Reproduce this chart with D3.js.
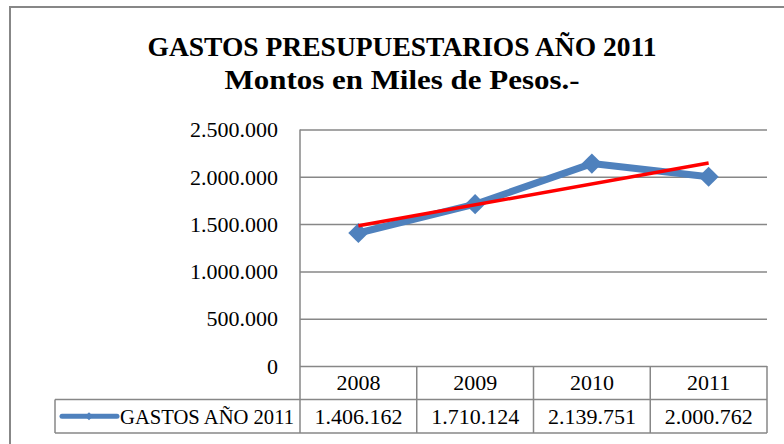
<!DOCTYPE html>
<html>
<head>
<meta charset="utf-8">
<script src="https://cdn.jsdelivr.net/npm/d3@7"></script>
<style>
  body { margin: 0; background: #ffffff; }
  svg { display: block; }
</style>
</head>
<body>
<script>
// datos del grafico
var years = ["2008", "2009", "2010", "2011"];
var gastos = [1406162, 1710124, 2139751, 2000762];
var yTicks = [0, 500000, 1000000, 1500000, 2000000, 2500000];
var seriesName = "GASTOS AÑO 2011";
var titleLines = ["GASTOS PRESUPUESTARIOS AÑO 2011", "Montos en Miles de Pesos.-"];

var width = 784;
var height = 444;
var grey = "#878787";
var blue = "#4F81BD";
var serif = "'Liberation Serif', 'DejaVu Serif', serif";

var plotLeft = 300, plotRight = 767, plotTop = 129.5, plotBottom = 366;
var rowH = 33.5;

var es = d3.formatLocale({decimal: ",", thousands: ".", grouping: [3], currency: ["$", ""]});
var fmt = es.format(",d");

var svg = d3.select("body")
            .append("svg")
            .attr("width", width)
            .attr("height", height);

svg.append("rect")
    .attr("width", width)
    .attr("height", height)
    .attr("fill", "white");

// marco exterior
svg.append("rect")
    .attr("x", 10)
    .attr("y", 7)
    .attr("width", 790)
    .attr("height", 460)
    .attr("fill", "none")
    .attr("stroke", grey)
    .attr("stroke-width", 2);

// titulo
svg.selectAll("text.title")
    .data(titleLines)
    .enter()
    .append("text")
    .attr("class", "title")
    .text(function(d){ return d; })
    .attr("x", 402)
    .attr("y", function(d, i){ return 56 + i * 32.5; })
    .attr("text-anchor", "middle")
    .attr("textLength", function(d, i){ return i == 0 ? 509 : 355; })
    .attr("lengthAdjust", "spacingAndGlyphs")
    .attr("fill", "black")
    .style("font-family", serif)
    .style("font-size", "28px")
    .style("font-weight", "bold");

var x = d3.scaleBand()
          .domain(years)
          .range([plotLeft, plotRight])
          .padding(0);

var y = d3.scaleLinear()
          .domain([0, 2500000])
          .range([plotBottom, plotTop]);

// eje y con lineas de division
var yAxis = d3.axisLeft(y)
              .tickValues(yTicks)
              .tickFormat(fmt)
              .tickSizeInner(-(plotRight - plotLeft))
              .tickSizeOuter(0)
              .tickPadding(22);

var gy = svg.append("g")
            .attr("transform", "translate(" + plotLeft + ",0)")
            .call(yAxis);

gy.select(".domain").remove();
gy.selectAll(".tick line")
    .attr("stroke", grey)
    .attr("stroke-width", 1.5);
gy.selectAll(".tick text")
    .attr("fill", "black")
    .attr("dy", "0.33em")
    .style("font-family", serif)
    .style("font-size", "22px");

// tabla de datos
var cols = [plotLeft].concat(years.map(function(d){ return x(d) + x.bandwidth(); }));

svg.selectAll("line.col")
    .data(cols)
    .enter()
    .append("line")
    .attr("class", "col")
    .attr("x1", function(d){ return d; })
    .attr("x2", function(d){ return d; })
    .attr("y1", function(d, i){ return i == 0 ? plotTop : plotBottom; })
    .attr("y2", plotBottom + 2 * rowH)
    .attr("stroke", grey)
    .attr("stroke-width", 1.5);

svg.append("line")
    .attr("x1", 55)
    .attr("x2", plotRight)
    .attr("y1", plotBottom + rowH)
    .attr("y2", plotBottom + rowH)
    .attr("stroke", grey)
    .attr("stroke-width", 1.5);

svg.append("line")
    .attr("x1", 55)
    .attr("x2", plotRight)
    .attr("y1", plotBottom + 2 * rowH)
    .attr("y2", plotBottom + 2 * rowH)
    .attr("stroke", grey)
    .attr("stroke-width", 1.5);

svg.append("line")
    .attr("x1", 55)
    .attr("x2", 55)
    .attr("y1", plotBottom + rowH)
    .attr("y2", plotBottom + 2 * rowH)
    .attr("stroke", grey)
    .attr("stroke-width", 1.5);

svg.selectAll("text.year")
    .data(years)
    .enter()
    .append("text")
    .attr("class", "year")
    .text(function(d){ return d; })
    .attr("x", function(d){ return x(d) + x.bandwidth() / 2; })
    .attr("y", plotBottom + rowH / 2)
    .attr("dy", "0.33em")
    .attr("text-anchor", "middle")
    .attr("fill", "black")
    .style("font-family", serif)
    .style("font-size", "22px");

svg.selectAll("text.valor")
    .data(gastos)
    .enter()
    .append("text")
    .attr("class", "valor")
    .text(function(d){ return fmt(d); })
    .attr("x", function(d, i){ return x(years[i]) + x.bandwidth() / 2; })
    .attr("y", plotBottom + rowH * 1.5)
    .attr("dy", "0.33em")
    .attr("text-anchor", "middle")
    .attr("fill", "black")
    .style("font-family", serif)
    .style("font-size", "22px");

// leyenda dentro de la tabla
var legY = plotBottom + rowH * 1.5;
svg.append("line")
    .attr("x1", 62)
    .attr("x2", 117)
    .attr("y1", legY)
    .attr("y2", legY)
    .attr("stroke", blue)
    .attr("stroke-width", 5)
    .attr("stroke-linecap", "round");

svg.append("path")
    .attr("d", d3.symbol().type(d3.symbolDiamond2).size(40)())
    .attr("transform", "translate(89," + legY + ")")
    .attr("fill", blue);

svg.append("text")
    .text(seriesName)
    .attr("x", 120)
    .attr("y", legY)
    .attr("dy", "0.33em")
    .attr("textLength", 174)
    .attr("lengthAdjust", "spacingAndGlyphs")
    .attr("fill", "black")
    .style("font-family", serif)
    .style("font-size", "22px");

// linea de la serie
var cx = function(d, i){ return x(years[i]) + x.bandwidth() / 2; };

var line = d3.line()
             .x(cx)
             .y(function(d){ return y(d); });

svg.append("path")
    .datum(gastos)
    .attr("d", line)
    .attr("fill", "none")
    .attr("stroke", blue)
    .attr("stroke-width", 7)
    .attr("stroke-linejoin", "round");

svg.selectAll("path.marker")
    .data(gastos)
    .enter()
    .append("path")
    .attr("class", "marker")
    .attr("d", d3.symbol().type(d3.symbolDiamond2).size(260)())
    .attr("transform", function(d, i){ return "translate(" + cx(d, i) + "," + y(d) + ")"; })
    .attr("fill", blue);

// linea de tendencia (regresion lineal)
var n = gastos.length;
var mx = d3.mean(gastos, function(d, i){ return i + 1; });
var my = d3.mean(gastos);
var sxy = d3.sum(gastos, function(d, i){ return (i + 1 - mx) * (d - my); });
var sxx = d3.sum(gastos, function(d, i){ return (i + 1 - mx) * (i + 1 - mx); });
var slope = sxy / sxx;
var trend = [1, n].map(function(k){ return {i: k - 1, v: my + slope * (k - mx)}; });

svg.append("path")
    .datum(trend)
    .attr("d", d3.line()
                 .x(function(d){ return x(years[d.i]) + x.bandwidth() / 2; })
                 .y(function(d){ return y(d.v); }))
    .attr("fill", "none")
    .attr("stroke", "#FF0000")
    .attr("stroke-width", 3.5);
</script>
</body>
</html>
